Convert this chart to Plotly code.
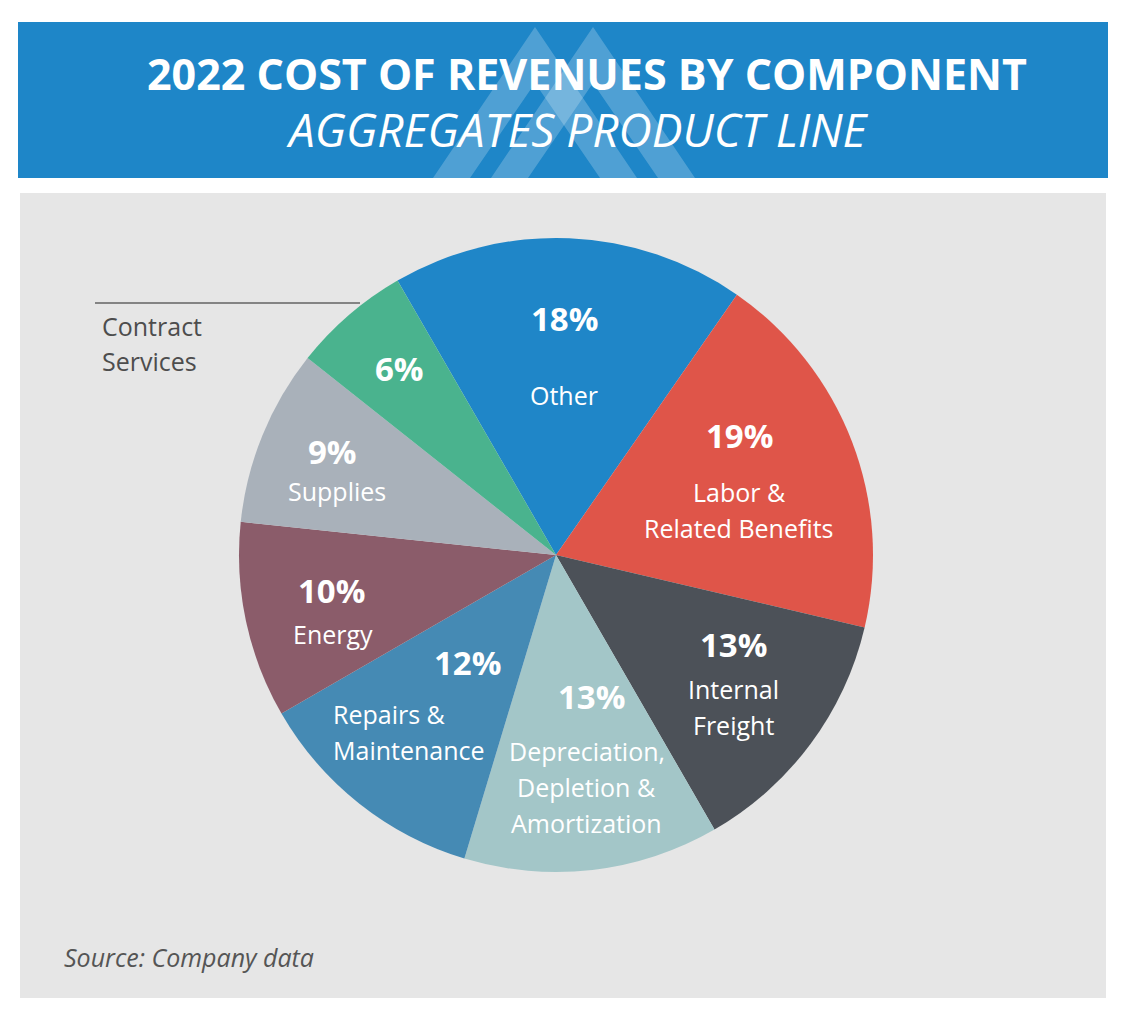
import math
import plotly.graph_objects as go

# reference canvas is 1124x1012; the page body adds an 8px margin around the figure
REF_W, REF_H = 1124, 1012
OFF = 8
W, H = REF_W - 2 * OFF, REF_H - 2 * OFF

# data
components = ['Other', 'Labor &<br>Related Benefits', 'Internal<br>Freight',
              'Depreciation,<br>Depletion &<br>Amortization', 'Repairs &<br>Maintenance',
              'Energy', 'Supplies', 'Contract<br>Services']
shares = [18, 19, 13, 13, 12, 10, 9, 6]
colors = ['#1F86C8', '#DF5549', '#4C5158', '#A3C6C8', '#458AB4',
          '#8B5C6A', '#A9B1BA', '#4AB38E']

title = '2022 COST OF REVENUES BY COMPONENT'
subtitle = 'AGGREGATES PRODUCT LINE'
source = 'Source: Company data'

# label layout (radius fraction along slice bisector, pixel offsets)
lab_frac = [0.625, 0.62, 0.69, 0.65, 0.64, 0.73, 0.75, 0.77]
pct_off = [(0, 39), (0, 49), (2, 41), (12, 63), (38, 51), (2, 13), (-3, 14), (3, 2)]
lbl_off = [(0, -38), (0, -25), (2, -22), (7, -27), (-99, -18), (3, -31), (1, -26), None]
lbl_align = ['center'] * 4 + ['left'] + ['center'] * 3
line_gap = 36
rotation = 330


def px(x, y):
    return (x - OFF) / W, 1 - (y - OFF) / H


dom_x = [px(239, 0)[0], px(873, 0)[0]]
dom_y = [px(0, 872)[1], px(0, 238)[1]]

fig = go.Figure()
fig.add_trace(go.Pie(
    labels=[c.replace('<br>', ' ') for c in components],
    values=shares,
    marker=dict(colors=colors, line=dict(width=0)),
    sort=False,
    direction='clockwise',
    rotation=rotation,
    textinfo='none',
    hoverinfo='label+percent',
    domain=dict(x=dom_x, y=dom_y),
    showlegend=False))

# header band, panel and logo chevrons
shapes = []
x0, y0 = px(18, 22)
x1, y1 = px(1108, 178)
shapes.append(dict(type='rect', xref='paper', yref='paper', x0=x0, y0=y1, x1=x1, y1=y0,
                   fillcolor='#1E86C8', line=dict(width=0), layer='below'))
x0, y0 = px(20, 193)
x1, y1 = px(1106, 998)
shapes.append(dict(type='rect', xref='paper', yref='paper', x0=x0, y0=y1, x1=x1, y1=y0,
                   fillcolor='#E6E6E6', line=dict(width=0), layer='below'))
for ax in [535, 593]:
    pts = [(ax, 27), (ax - 102, 178), (ax - 65, 178), (ax, 83), (ax + 65, 178), (ax + 102, 178)]
    path = 'M ' + ' L '.join('%.5f,%.5f' % px(*p) for p in pts) + ' Z'
    shapes.append(dict(type='path', xref='paper', yref='paper', path=path,
                       fillcolor='rgba(255,255,255,0.22)', line=dict(width=0), layer='below'))

# leader line for Contract Services
lx0, ly = px(95, 303)
lx1, _ = px(360, 303)
shapes.append(dict(type='line', xref='paper', yref='paper', x0=lx0, y0=ly, x1=lx1, y1=ly,
                   line=dict(color='#222222', width=1)))

ann = []
ann.append(dict(text='<b>' + title + '</b>', x=px(587, 73)[0], y=px(587, 73)[1],
                font=dict(family='Open Sans', size=43, color='white')))
ann.append(dict(text='<i>' + subtitle + '</i>', x=px(577, 129)[0], y=px(577, 129)[1],
                font=dict(family='Open Sans', size=46, color='white')))
ann.append(dict(text='<i>' + source + '</i>', x=px(62, 957)[0], y=px(62, 957)[1], xanchor='left',
                font=dict(family='Open Sans', size=25, color='#555555')))

# slice labels placed along each slice bisector
cx = 556
cy = 555
R = (873 - 239) / 2
start = rotation
total = sum(shares)
for i, v in enumerate(shares):
    span = v / total * 360
    mid = math.radians(start + span / 2)
    start += span
    r = lab_frac[i] * R
    ax_, ay_ = px(cx + r * math.sin(mid), cy - r * math.cos(mid))
    ann.append(dict(text='<b>%d%%</b>' % v, x=ax_, y=ay_, xshift=pct_off[i][0], yshift=pct_off[i][1],
                    font=dict(family='Open Sans', size=33, color='white')))
    if lbl_off[i] is None:
        continue
    lines = components[i].split('<br>')
    n = len(lines)
    for k, line in enumerate(lines):
        ann.append(dict(text=line, x=ax_, y=ay_, xanchor=lbl_align[i],
                        xshift=lbl_off[i][0],
                        yshift=lbl_off[i][1] + ((n - 1) / 2 - k) * line_gap,
                        font=dict(family='Open Sans', size=25, color='white')))

# outside label for Contract Services
for k, line in enumerate(components[-1].split('<br>')):
    ann.append(dict(text=line, x=px(100, 326 + k * 35)[0], y=px(100, 326 + k * 35)[1], xanchor='left',
                    font=dict(family='Open Sans', size=25, color='#4D4D4D')))

for a in ann:
    a.setdefault('xanchor', 'center')
    a.update(xref='paper', yref='paper', yanchor='middle', showarrow=False)

fig.update_layout(
    width=W, height=H,
    margin=dict(l=0, r=0, t=0, b=0),
    paper_bgcolor='white',
    plot_bgcolor='white',
    shapes=shapes,
    annotations=ann)

fig.write_html('out.html')
